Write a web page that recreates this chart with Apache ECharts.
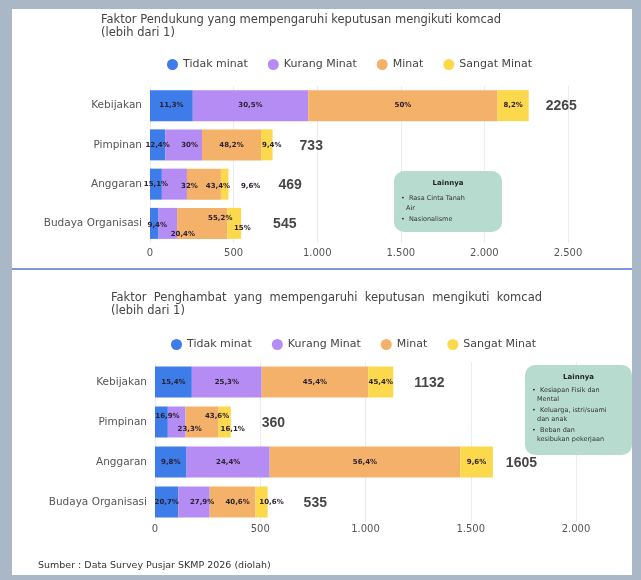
<!DOCTYPE html>
<html>
<head>
<meta charset="utf-8">
<style>
html, body { margin: 0; padding: 0; background: #a9b7c6; }
#main { width: 641px; height: 580px; }
</style>
<script src="https://cdn.jsdelivr.net/npm/echarts@6/dist/echarts.min.js"></script>
</head>
<body>
<div id="main"></div>
<script>
const categories = ['Kebijakan', 'Pimpinan', 'Anggaran', 'Budaya Organisasi'];
const seriesNames = ['Tidak minat', 'Kurang Minat', 'Minat', 'Sangat Minat'];

// Faktor Pendukung (top chart), respondents per answer
const dukungTidak = [256, 91, 71, 51];
const dukungKurang = [690, 220, 150, 111];
const dukungMinat = [1133, 353, 203, 301];
const dukungSangat = [186, 69, 45, 82];
const dukungTotal = [2265, 733, 469, 545];
const dukungPctTidak = ['11,3%', '12,4%', '15,1%', '9,4%'];
const dukungPctKurang = ['30,5%', '30%', '32%', '20,4%'];
const dukungPctMinat = ['50%', '48,2%', '43,4%', '55,2%'];
const dukungPctSangat = ['8,2%', '9,4%', '9,6%', '15%'];

// Faktor Penghambat (bottom chart)
const hambatTidak = [175, 61, 150, 111];
const hambatKurang = [332, 84, 395, 149];
const hambatMinat = [506, 157, 905, 217];
const hambatSangat = [119, 58, 155, 58];
const hambatTotal = [1132, 360, 1605, 535];
const hambatPctTidak = ['15,4%', '16,9%', '9,8%', '20,7%'];
const hambatPctKurang = ['25,3%', '23,3%', '24,4%', '27,9%'];
const hambatPctMinat = ['45,4%', '43,6%', '56,4%', '40,6%'];
const hambatPctSangat = ['45,4%', '16,1%', '9,6%', '10,6%'];

const colors = ['#3d7ce9', '#b48cf3', '#f4b169', '#fbd84c'];
const font = 'DejaVu Sans';

// hand placement of the small % labels, key = category-series
const nudgeDukung = {
	'1-1': [6, 0], '1-3': [5, 0],
	'2-1': [15, 2], '2-2': [14, 2], '2-3': [26, 2],
	'3-0': [3, 2], '3-1': [15, 11], '3-2': [18, -5], '3-3': [8, 5],
};
const nudgeHambat = {
	'1-0': [6, -6], '1-1': [13, 7], '1-2': [15, -6], '1-3': [8, 7],
	'3-1': [8, 0], '3-2': [5, 0], '3-3': [10, 0],
};
const totalShiftDukung = [17, 27, 50, 32];
const totalShiftHambat = [21, 31, 13, 36];

const thousands = (v) => String(v).replace(/\B(?=(\d{3})+(?!\d))/g, '.');

function buildSeries(gi, values, pcts, nudges, totals, shifts) {
	const out = values.map((vals, si) => ({
		name: seriesNames[si],
		type: 'bar',
		stack: 'g' + gi,
		xAxisIndex: gi,
		yAxisIndex: gi,
		barWidth: 31,
		itemStyle: { color: colors[si] },
		label: {
			show: true,
			position: 'inside',
			fontFamily: font,
			fontSize: 7,
			fontWeight: 'bold',
			color: '#2b2030',
			formatter: (p) => pcts[si][p.dataIndex],
		},
		data: vals.map((v, ci) => {
			const n = nudges[ci + '-' + si];
			return n ? { value: v, label: { offset: n } } : v;
		}),
	}));
	out.push({
		type: 'scatter',
		xAxisIndex: gi,
		yAxisIndex: gi,
		symbolSize: 0,
		silent: true,
		data: totals.map((t, ci) => ({ value: [t, ci], label: { offset: [shifts[ci], 1] } })),
		label: {
			show: true,
			position: 'right',
			distance: 0,
			fontFamily: 'Liberation Sans',
			fontSize: 14,
			fontWeight: 'bold',
			color: '#151515',
			formatter: (p) => p.value[0],
		},
	});
	return out;
}

function catAxis(gi) {
	return {
		type: 'category',
		gridIndex: gi,
		data: categories,
		inverse: true,
		axisLine: { show: false },
		axisTick: { show: false },
		axisLabel: { fontFamily: font, fontSize: 10.5, color: '#555', margin: 8 },
	};
}

function valAxis(gi, max, margin) {
	return {
		type: 'value',
		gridIndex: gi,
		min: 0,
		max: max,
		interval: 500,
		axisLine: { show: false },
		axisTick: { show: false },
		splitLine: { lineStyle: { color: '#ececec' } },
		axisLabel: { fontFamily: font, fontSize: 10, color: '#555', margin: margin, formatter: thousands },
	};
}

// teal "Lainnya" note, drawn above the split lines
function noteBox(x, y, w, h, lines) {
	const children = [{
		type: 'rect',
		z: 100,
		shape: { x: 0, y: 0, width: w, height: h, r: 10 },
		style: { fill: '#b7dccf' },
	}, {
		type: 'text',
		z: 101,
		x: w / 2,
		y: 9,
		style: { text: 'Lainnya', fontFamily: font, fontSize: 7, fontWeight: 'bold', fill: '#222', align: 'center' },
	}];
	lines.forEach((ln) => {
		children.push({
			type: 'text',
			z: 101,
			x: ln[0] ? 7 : 12,
			y: ln[1],
			style: { text: ln[2], fontFamily: font, fontSize: 6.5, fill: '#333' },
		});
	});
	return { type: 'group', x: x, y: y, children: children };
}

const chart = echarts.init(document.getElementById('main'));
chart.setOption({
	animation: false,
	backgroundColor: '#a9b7c6',
	title: [{
		text: 'Faktor Pendukung yang mempengaruhi keputusan mengikuti komcad\n(lebih dari 1)',
		left: 96,
		top: 9,
		textStyle: { fontFamily: font, fontSize: 11.5, fontWeight: 'normal', color: '#444', lineHeight: 13 },
	}, {
		text: 'Faktor  Penghambat  yang  mempengaruhi  keputusan  mengikuti  komcad\n(lebih dari 1)',
		left: 106,
		top: 287,
		textStyle: { fontFamily: font, fontSize: 11.5, fontWeight: 'normal', color: '#444', lineHeight: 13 },
	}],
	legend: [{
		top: 54,
		left: 162,
		icon: 'circle',
		itemWidth: 11,
		itemHeight: 11,
		itemGap: 20,
		data: seriesNames,
		textStyle: { fontFamily: font, fontSize: 11, color: '#444' },
	}, {
		top: 334,
		left: 166,
		icon: 'circle',
		itemWidth: 11,
		itemHeight: 11,
		itemGap: 20,
		data: seriesNames,
		textStyle: { fontFamily: font, fontSize: 11, color: '#444' },
	}],
	grid: [
		{ left: 150, right: 73, top: 86, height: 157 },
		{ left: 155, right: 65, top: 362, height: 160 },
	],
	xAxis: [valAxis(0, 2500, 5), valAxis(1, 2000, 2)],
	yAxis: [catAxis(0), catAxis(1)],
	series: [
		...buildSeries(0, [dukungTidak, dukungKurang, dukungMinat, dukungSangat],
			[dukungPctTidak, dukungPctKurang, dukungPctMinat, dukungPctSangat],
			nudgeDukung, dukungTotal, totalShiftDukung),
		...buildSeries(1, [hambatTidak, hambatKurang, hambatMinat, hambatSangat],
			[hambatPctTidak, hambatPctKurang, hambatPctMinat, hambatPctSangat],
			nudgeHambat, hambatTotal, totalShiftHambat),
	],
	graphic: [{
		type: 'rect',
		z: -10,
		shape: { x: 12, y: 9, width: 620, height: 566 },
		style: { fill: '#ffffff' },
	}, {
		type: 'rect',
		z: -9,
		shape: { x: 12, y: 268, width: 620, height: 2 },
		style: { fill: '#7f93e4' },
	},
	noteBox(394, 171, 108, 61, [[1, 24, '•  Rasa Cinta Tanah'], [0, 34, 'Air'], [1, 45, '•  Nasionalisme']]),
	noteBox(525, 365, 107, 90, [
		[1, 22, '•  Kesiapan Fisik dan'], [0, 31, 'Mental'],
		[1, 42, '•  Keluarga, istri/suami'], [0, 51, 'dan anak'],
		[1, 62, '•  Beban dan'], [0, 71, 'kesibukan pekerjaan'],
	]),
	{
		type: 'text',
		left: 38,
		top: 561,
		style: { text: 'Sumber : Data Survey Pusjar SKMP 2026 (diolah)', fontFamily: font, fontSize: 9.5, fill: '#333' },
	}],
});
</script>
</body>
</html>
